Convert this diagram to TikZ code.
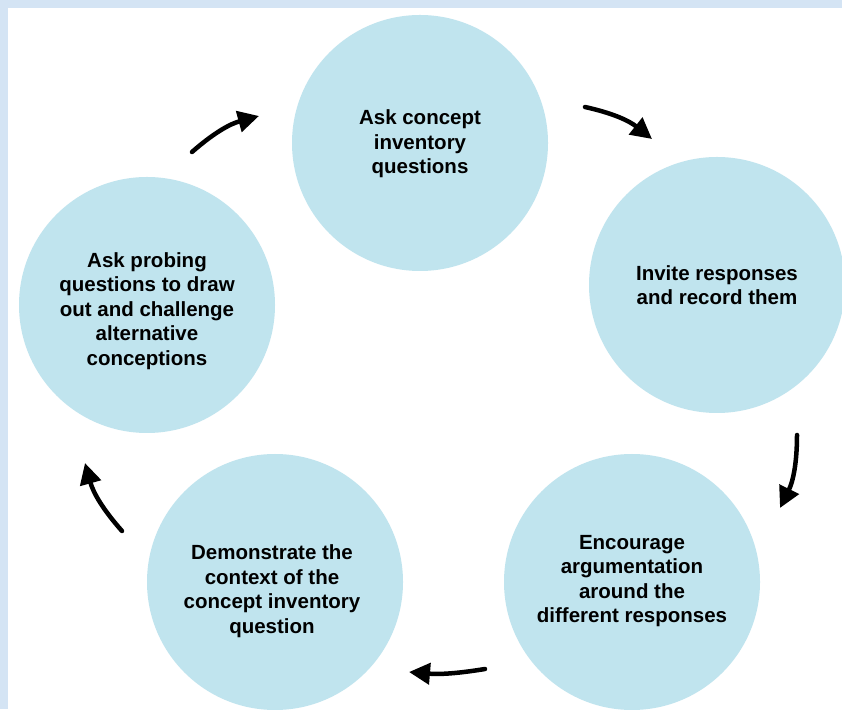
\documentclass[tikz,border=0pt]{standalone}
\usepackage{fontspec}
\setmainfont{Liberation Sans}
\usetikzlibrary{arrows.meta}
\definecolor{burbuja}{HTML}{C0E4EE}
\definecolor{marco}{HTML}{D4E4F4}
\tikzstyle{every path}=[line cap=round, line join=round]
\tikzstyle{burbuja}=[circle, fill=burbuja, minimum size=256pt, inner sep=0pt]
\tikzstyle{texto}=[align=center, font=\bfseries\fontsize{20.5}{24.5}\selectfont]
\tikzstyle{flecha}=[line width=4.5pt, -{Triangle[length=21pt,width=21pt]}, bend left=13]

\begin{document}
\begin{tikzpicture}[x=1pt,y=1pt]
        %marco
        \useasboundingbox (0,0) rectangle (842,709);
        \fill[marco] (0,0) rectangle (842,709);
        \fill[white] (8,0) rectangle (842,701);
        %circulos
        \node[burbuja] (ask) at (420,566) {};
        \node[burbuja] (invite) at (717,424) {};
        \node[burbuja] (encourage) at (632,127) {};
        \node[burbuja] (demo) at (275,127) {};
        \node[burbuja] (probe) at (147,404) {};
        %textos
        \node[texto] (askT) at ([yshift=-1]ask) {Ask concept\\inventory\\questions};
        \node[texto] (inviteT) at (invite) {Invite responses\\and record them};
        \node[texto] (encourageT) at ([yshift=1]encourage) {Encourage\\argumentation\\around the\\different responses};
        \node[texto] (demoT) at ([shift={(-3,-9)}]demo) {Demonstrate the\\context of the\\concept inventory\\question};
        \node[texto] (probeT) at ([yshift=-6]probe) {Ask probing\\questions to draw\\out and challenge\\alternative\\conceptions};
        %flechas
        \coordinate (f1a) at (192,557); \coordinate (f1b) at (259,593);
        \coordinate (f2a) at (585,602); \coordinate (f2b) at (652,570);
        \coordinate (f3a) at (797,274); \coordinate (f3b) at (780,201);
        \coordinate (f4a) at (485,40);  \coordinate (f4b) at (409,37);
        \coordinate (f5a) at (122,178); \coordinate (f5b) at (85,246);
        \draw[flecha] (f1a) to (f1b);
        \draw[flecha] (f2a) to (f2b);
        \draw[flecha] (f3a) to (f3b);
        \draw[flecha, bend left=7] (f4a) to (f4b);
        \draw[flecha] (f5a) to (f5b);
\end{tikzpicture}
\end{document}
